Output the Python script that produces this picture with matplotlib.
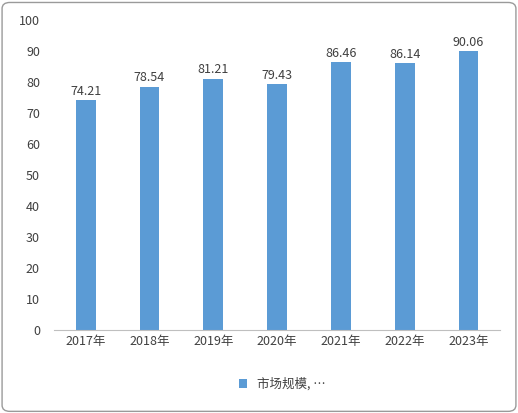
import matplotlib
matplotlib.use("Agg")
import matplotlib.pyplot as plt
from matplotlib.patches import FancyBboxPatch

plt.rcParams['font.family'] = ['Noto Sans CJK SC', 'DejaVu Sans']

years = ["2017年", "2018年", "2019年", "2020年", "2021年", "2022年", "2023年"]
values = [74.21, 78.54, 81.21, 79.43, 86.46, 86.14, 90.06]
series_name = "市场规模, …"

fig = plt.figure(figsize=(5.18, 4.13), dpi=100)
fig.patches.append(FancyBboxPatch((0.004, 0.004), 0.992, 0.99, boxstyle="round,pad=0,rounding_size=0.015",
                                  transform=fig.transFigure, fill=False, edgecolor="#9a9a9a", lw=1))
ax = fig.add_axes([0.104, 0.2, 0.862, 0.751])
x = range(len(years))
bars = ax.bar(x, values, width=0.31, color="#5b9bd5", label=series_name)
for xi, v in zip(x, values):
    ax.text(xi, v + 0.8, f"{v:.2f}", ha="center", va="bottom", fontsize=9, color="#404040")
ax.set_xlim(-0.5, len(years) - 0.5)
ax.set_ylim(0, 100)
ax.set_yticks(range(0, 101, 10))
ax.set_xticks(list(x))
ax.set_xticklabels(years)
ax.tick_params(axis='both', length=0, labelsize=9, colors="#404040")
ax.tick_params(axis='y', pad=10)
for s in ["top", "right", "left"]:
    ax.spines[s].set_visible(False)
ax.spines["bottom"].set_color("#bfbfbf")
fig.legend(handles=[bars], labels=[series_name], loc="center", bbox_to_anchor=(0.545, 0.07),
           frameon=False, fontsize=9, handlelength=0.7, handleheight=0.7, labelcolor="#404040")
fig.savefig("out.png", dpi=100)
